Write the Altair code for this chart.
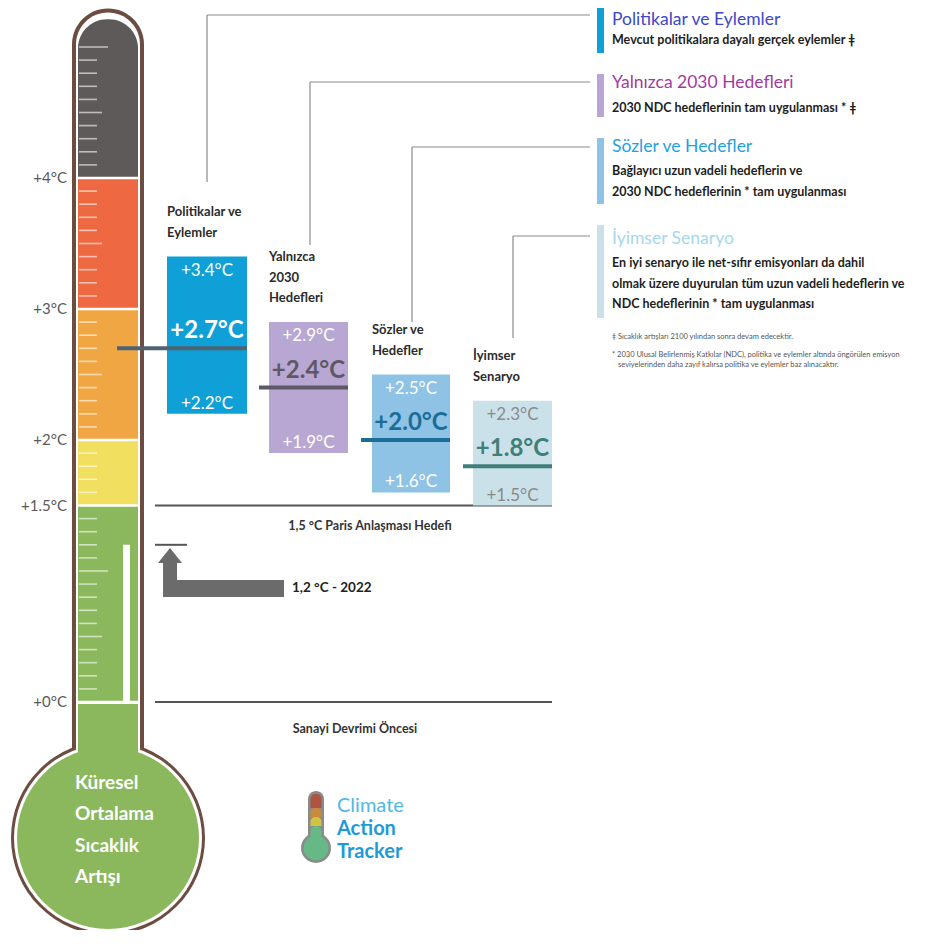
import altair as alt
import pandas as pd

# ---------------- data ----------------
scenario_names = ["Politikalar ve Eylemler", "Yalnızca 2030 Hedefleri",
                  "Sözler ve Hedefler", "İyimser Senaryo"]
scenario_labels = [["Politikalar ve", "Eylemler"], ["Yalnızca", "2030", "Hedefleri"],
                   ["Sözler ve", "Hedefler"], ["İyimser", "Senaryo"]]
warming_high = [3.4, 2.9, 2.5, 2.3]
warming_mid = [2.7, 2.4, 2.0, 1.8]
warming_low = [2.2, 1.9, 1.6, 1.5]
legend_subtitles = [
    ["Mevcut politikalara dayalı gerçek eylemler ǂ"],
    ["2030 NDC hedeflerinin tam uygulanması  * ǂ"],
    ["Bağlayıcı uzun vadeli hedeflerin ve", "2030 NDC hedeflerinin * tam uygulanması"],
    ["En iyi senaryo ile net-sıfır emisyonları da dahil",
     "olmak üzere duyurulan tüm uzun vadeli hedeflerin ve",
     "NDC hedeflerinin * tam uygulanması"],
]
footnotes = ["ǂ  Sıcaklık artışları 2100 yılından sonra devam edecektir.",
             "* 2030 Ulusal Belirlenmiş Katkılar (NDC), politika ve eylemler altında öngörülen emisyon",
             "seviyelerinden daha zayıf kalırsa politika ve eylemler baz alınacaktır."]
band_low = [0.0, 1.5, 2.0, 3.0, 4.0]
band_high = [1.5, 2.0, 3.0, 4.0, 5.22]
axis_values = [4.0, 3.0, 2.0, 1.5, 0.0]
axis_labels = ["+4°C", "+3°C", "+2°C", "+1.5°C", "+0°C"]
paris_goal = 1.5
warming_2022 = 1.2
pre_industrial = 0.0
bulb_words = ["Küresel", "Ortalama", "Sıcaklık", "Artışı"]
logo_words = ["Climate", "Action", "Tracker"]

# ---------------- layout / style ----------------
PX0, PXC = 702, 131          # reference pixel of 0°C, pixels per °C


def T(py):
    return (PX0 - py) / PXC


W, H = 929, 922
XS = alt.Scale(domain=[8, 8 + W], nice=False, zero=False)
YS = alt.Scale(domain=[T(8 + H), T(8)], nice=False, zero=False)
FONT = "Lato"

band_colors = ["#8bb85c", "#f1df5f", "#f0a743", "#ee6841", "#5e5a59"]
box_x0 = [167, 269, 372, 473]
box_x1 = [247, 348, 450, 552]
median_x0 = [117, 259, 361, 463]
box_fill = ["#0ea0d6", "#b8a7d2", "#8ec3e6", "#cbe1e9"]
median_color = ["#4f6272", "#5e5766", "#1b6d97", "#3e7f78"]
mid_text_color = ["#ffffff", "#5e5766", "#1b6d97", "#3e7f78"]
edge_text_color = ["#ffffff", "#ffffff", "#ffffff", "#8a8a8a"]
leader_x = [207, 310, 412, 513]
leader_bottom = [182, 245, 322, 338]
leader_top = [15, 82, 147, 236]
legend_bar = [(8, 53), (74, 117), (138, 204), (225, 318)]
legend_title_py = [20, 83, 147, 239]
legend_sub_py = [40, 108, 171, 263]
legend_title_color = ["#3d47c9", "#a03b9f", "#1fa2e0", "#a5d8ec"]
BROWN = "#6d4c41"


def X(f="x"):
    return alt.X(f"{f}:Q", scale=XS, axis=None)


def Y(f="y"):
    return alt.Y(f"{f}:Q", scale=YS, axis=None)


def C():
    return alt.Color("c:N", scale=None)


def rect_layer(rows, **mk):
    return alt.Chart(pd.DataFrame(rows)).mark_rect(**mk).encode(
        x=X(), x2=alt.X2("x2:Q"), y=Y(), y2=alt.Y2("y2:Q"), color=C())


def rule_layer(rows, sw, **mk):
    return alt.Chart(pd.DataFrame(rows)).mark_rule(strokeWidth=sw, **mk).encode(
        x=X(), x2=alt.X2("x2:Q"), y=Y(), y2=alt.Y2("y2:Q"), color=C())


def text_layer(rows, **mk):
    mk.setdefault("font", FONT)
    return alt.Chart(pd.DataFrame(rows)).mark_text(**mk).encode(
        x=X(), y=Y(), text="s:N", color=C())


def point_layer(rows, **mk):
    mk.setdefault("shape", "circle")
    return alt.Chart(pd.DataFrame(rows)).mark_point(
        filled=True, opacity=1, strokeWidth=0, **mk).encode(
        x=X(), y=Y(), size=alt.Size("s:Q", scale=None), color=C())


layers = []

# ---------------- thermometer ----------------
layers.append(rect_layer([dict(x=72, x2=144, y=T(8.5), y2=T(760), c=BROWN)],
                         cornerRadiusTopLeft=36, cornerRadiusTopRight=36))
layers.append(point_layer([dict(x=108, y=T(838), s=194 ** 2, c=BROWN)]))
layers.append(rect_layer([dict(x=76, x2=140, y=T(12.5), y2=T(760), c="#ffffff")],
                         cornerRadiusTopLeft=32, cornerRadiusTopRight=32))
layers.append(point_layer([dict(x=108, y=T(838), s=188 ** 2, c="#ffffff")]))
layers.append(point_layer([dict(x=108, y=T(838), s=182 ** 2, c=band_colors[0])]))
layers.append(rect_layer([dict(x=78, x2=138, y=T(704), y2=T(780), c=band_colors[0])]))

gap = 0.009
band_rows = [dict(x=78, x2=138, y=lo + gap, y2=hi - gap, c=col)
             for lo, hi, col in zip(band_low, band_high, band_colors)]
layers.append(rect_layer(band_rows[:-1]))
layers.append(rect_layer(band_rows[-1:], cornerRadiusTopLeft=29, cornerRadiusTopRight=29))

# current warming bar inside the tube
layers.append(rect_layer([dict(x=123, x2=130, y=pre_industrial, y2=warming_2022, c="#ffffff")]))

# gradation ticks every 0.1 °C
tick_rows = []
for k in range(1, 51):
    v = k / 10
    if v in (1.5, 2.0, 3.0, 4.0):
        continue
    if k % 10 == 0:
        xe = 108
    elif k % 5 == 0:
        xe = 102
    else:
        xe = 97
    tick_rows.append(dict(x=79, x2=xe, y=v, y2=v, c="rgba(255,255,255,0.6)"))
layers.append(rule_layer(tick_rows, 1.6))

# axis labels
layers.append(text_layer([dict(x=67, y=v, s=s, c="#5a5a5a") for v, s in zip(axis_values, axis_labels)],
                         align="right", baseline="middle", fontSize=15))

# bulb text
layers.append(text_layer([dict(x=75, y=T(py), s=w, c="#ffffff")
                          for w, py in zip(bulb_words, [783, 814, 846, 877])],
                         align="left", baseline="middle", fontSize=19, fontWeight="bold"))

# ---------------- reference lines ----------------
layers.append(rule_layer([dict(x=155, x2=552, y=paris_goal, y2=paris_goal, c="#555555"),
                          dict(x=155, x2=552, y=pre_industrial, y2=pre_industrial, c="#555555"),
                          dict(x=155, x2=187, y=warming_2022, y2=warming_2022, c="#555555")], 2))
layers.append(text_layer([dict(x=370, y=T(526), s="1,5 °C Paris Anlaşması Hedefi", c="#333333"),
                          dict(x=355, y=T(729), s="Sanayi Devrimi Öncesi", c="#333333")],
                         align="center", baseline="middle", fontSize=12.5, fontWeight="bold"))

# arrow for 2022
layers.append(rect_layer([dict(x=163, x2=177, y=T(562), y2=T(597), c="#6b6b6b"),
                          dict(x=163, x2=284, y=T(580), y2=T(597), c="#6b6b6b")]))
layers.append(point_layer([dict(x=170, y=T(555.5), s=24 ** 2, c="#6b6b6b")],
                          shape="M -1 0.625 L 0 -0.625 L 1 0.625 Z"))
layers.append(text_layer([dict(x=292, y=T(588), s="1,2 °C - 2022", c="#222222")],
                         align="left", baseline="middle", fontSize=13.5, fontWeight="bold"))

# ---------------- scenario boxes ----------------
box_rows = [dict(x=a, x2=b, y=lo, y2=hi, c=col)
            for a, b, lo, hi, col in zip(box_x0, box_x1, warming_low, warming_high, box_fill)]
layers.append(rect_layer(box_rows))
layers.append(rule_layer([dict(x=a, x2=b, y=m, y2=m, c=col)
                          for a, b, m, col in zip(median_x0, box_x1, warming_mid, median_color)], 4))

cx = [(a + b) / 2 for a, b in zip(box_x0, box_x1)]
layers.append(text_layer([dict(x=x, y=v, s=f"+{v:.1f}°C", c=col)
                          for x, v, col in zip(cx, warming_high, edge_text_color)],
                         align="center", baseline="middle", fontSize=17, dy=14))
layers.append(text_layer([dict(x=x, y=v, s=f"+{v:.1f}°C", c=col)
                          for x, v, col in zip(cx, warming_low, edge_text_color)],
                         align="center", baseline="middle", fontSize=17, dy=-10))
layers.append(text_layer([dict(x=x, y=v, s=f"+{v:.1f}°C", c=col)
                          for x, v, col in zip(cx, warming_mid, mid_text_color)],
                         align="center", baseline="middle", fontSize=24, fontWeight="bold", dy=-17))

label_rows = []
for x0, hi, lines in zip(box_x0, warming_high, scenario_labels):
    n = len(lines)
    for i, ln in enumerate(lines):
        off = 24 + 20.5 * (n - 1 - i)
        label_rows.append(dict(x=x0, y=hi + off / PXC, s=ln, c="#2b2b2b"))
layers.append(text_layer(label_rows, align="left", baseline="middle", fontSize=13, fontWeight="bold"))

# leader lines
lead = []
for x, yb, yt in zip(leader_x, leader_bottom, leader_top):
    lead.append(dict(x=x, x2=x, y=T(yb), y2=T(yt), c="#8a8a8a"))
    lead.append(dict(x=x, x2=590, y=T(yt), y2=T(yt), c="#8a8a8a"))
layers.append(rule_layer(lead, 1.2))

# ---------------- legend ----------------
layers.append(rect_layer([dict(x=597, x2=604, y=T(a), y2=T(b), c=col)
                          for (a, b), col in zip(legend_bar, box_fill)]))
layers.append(text_layer([dict(x=612, y=T(py), s=n, c=col)
                          for n, py, col in zip(scenario_names, legend_title_py, legend_title_color)],
                         align="left", baseline="middle", fontSize=17.5))
sub_rows = []
for lines, py in zip(legend_subtitles, legend_sub_py):
    for k, ln in enumerate(lines):
        sub_rows.append(dict(x=612, y=T(py + 20.5 * k), s=ln, c="#1e1e1e"))
layers.append(text_layer(sub_rows, align="left", baseline="middle", fontSize=12.5, fontWeight="bold"))
layers.append(text_layer([dict(x=x, y=T(py), s=s, c="#555555")
                          for s, x, py in zip(footnotes, [612, 612, 618], [337, 355, 365])],
                         align="left", baseline="middle", fontSize=7.5))

# ---------------- logo ----------------
layers.append(point_layer([dict(x=316, y=T(848), s=30 ** 2, c="#8a8a8a")]))
layers.append(rect_layer([dict(x=308, x2=324, y=T(791), y2=T(848), c="#8a8a8a")],
                         cornerRadiusTopLeft=8, cornerRadiusTopRight=8))
layers.append(rect_layer([dict(x=310.5, x2=321.5, y=T(794), y2=T(808), c="#ad5540"),
                          dict(x=310.5, x2=321.5, y=T(808), y2=T(817), c="#c98b3b"),
                          dict(x=310.5, x2=321.5, y=T(817), y2=T(826), c="#cfc344"),
                          dict(x=310.5, x2=321.5, y=T(826), y2=T(848), c="#66b884")],
                         cornerRadiusTopLeft=5, cornerRadiusTopRight=5))
layers.append(point_layer([dict(x=316, y=T(848), s=25 ** 2, c="#66b884")]))
layers.append(text_layer([dict(x=337, y=T(806), s=logo_words[0], c="#4fb8e6")],
                         align="left", baseline="middle", fontSize=20))
layers.append(text_layer([dict(x=337, y=T(py), s=w, c="#1e9bd7")
                          for w, py in zip(logo_words[1:], [829, 852])],
                         align="left", baseline="middle", fontSize=20, fontWeight="bold"))

chart = alt.layer(*layers).properties(
    width=W, height=H, padding=0,
    autosize=alt.AutoSizeParams(type="none"),
    background="#ffffff",
).configure_view(stroke=None)

chart.save("out.html", embed_options={"renderer": "svg", "actions": False})
